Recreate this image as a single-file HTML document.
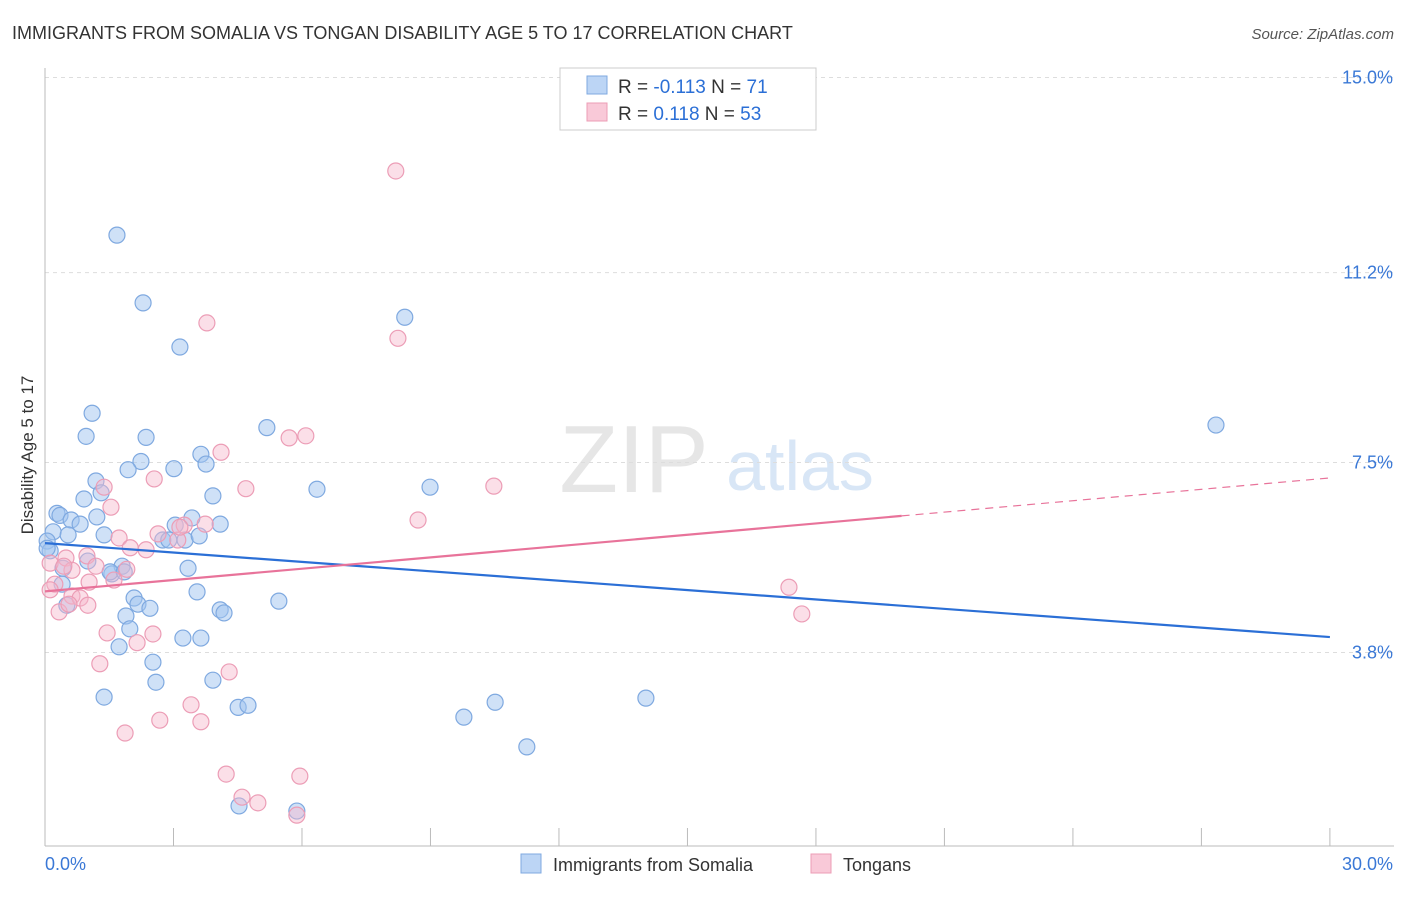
<!DOCTYPE html>
<html><head><meta charset="utf-8"><style>
body{margin:0;background:#fff;font-family:"Liberation Sans",sans-serif;}
svg text{font-family:"Liberation Sans",sans-serif;}
</style></head><body>
<svg id="c" width="1406" height="892">
<text x="12" y="39" font-size="18" fill="#333">IMMIGRANTS FROM SOMALIA VS TONGAN DISABILITY AGE 5 TO 17 CORRELATION CHART</text>
<text x="1394" y="39" font-size="15" fill="#555" font-style="italic" text-anchor="end">Source: ZipAtlas.com</text>
<text x="634" y="492" font-size="96" fill="#e6e6e6" font-family="Liberation Serif" text-anchor="middle">ZIP</text>
<text x="800" y="490" font-size="70" fill="#d8e6f6" text-anchor="middle">atlas</text>
<text x="33" y="455" font-size="17" fill="#333" text-anchor="middle" transform="rotate(-90 33 455)">Disability Age 5 to 17</text>
<g id="grid"></g><g id="axes"></g><g id="pts"></g><g id="lines"></g>
<g>
<rect x="560" y="68" width="256" height="62" fill="#fff" stroke="#ccc"/>
<rect x="587" y="76" width="20" height="18" fill="#bcd5f5" stroke="#7fa9e0"/>
<text x="618" y="93" font-size="19" fill="#333">R = <tspan fill="#2b6fd6">-0.113</tspan>   N =  <tspan fill="#2b6fd6">71</tspan></text>
<rect x="587" y="103" width="20" height="18" fill="#f9c9d8" stroke="#ec9db6"/>
<text x="618" y="120" font-size="19" fill="#333">R =  <tspan fill="#2b6fd6"> 0.118</tspan>   N = <tspan fill="#2b6fd6">53</tspan></text>
</g>
<g>
<rect x="521" y="854" width="20" height="19" fill="#bcd5f5" stroke="#7fa9e0"/>
<text x="553" y="871" font-size="18" fill="#333">Immigrants from Somalia</text>
<rect x="811" y="854" width="20" height="19" fill="#f9c9d8" stroke="#ec9db6"/>
<text x="843" y="871" font-size="18" fill="#333">Tongans</text>
</g>
</svg>
<script>
const yTicks=[3.8,7.5,11.2,15.0];
const yTickLabels=["3.8%","7.5%","11.2%","15.0%"];
const xEnds=["0.0%","30.0%"];
const somaliaX=[1.68,2.29,3.15,8.4,1.10,0.96,2.36,5.18,27.34,2.24,1.94,3.01,3.64,3.76,1.19,0.91,1.31,3.92,6.35,8.99,0.28,0.35,0.61,0.82,1.21,3.43,4.09,0.19,0.54,1.38,2.75,2.89,3.27,3.6,0.05,0.12,1.0,1.80,3.34,1.56,0.42,0.40,3.55,2.08,2.17,2.45,4.09,4.18,5.46,1.89,1.98,3.22,3.64,1.73,2.52,2.59,3.92,1.38,4.51,4.74,9.78,10.51,14.03,11.25,4.53,5.88,0.05,1.52,3.04,1.85,0.51];
const somaliaY=[11.93,10.61,9.75,10.33,8.46,8.01,7.99,8.18,8.23,7.52,7.36,7.38,7.66,7.47,7.14,6.79,6.91,6.85,6.98,7.02,6.51,6.47,6.38,6.30,6.44,6.42,6.30,6.15,6.09,6.09,5.99,5.99,5.99,6.07,5.97,5.78,5.58,5.48,5.44,5.33,5.44,5.13,4.98,4.86,4.74,4.66,4.63,4.57,4.80,4.51,4.26,4.08,4.08,3.91,3.61,3.22,3.26,2.93,2.73,2.77,2.54,2.83,2.91,1.96,0.81,0.71,5.83,5.37,6.28,5.37,4.72];
const tonganX=[8.19,3.78,8.24,5.70,6.09,4.11,2.55,4.69,10.48,1.38,1.54,8.71,3.25,2.64,3.10,1.73,1.99,0.98,2.36,0.49,0.12,1.19,0.63,0.44,1.91,1.61,0.23,0.12,1.03,0.63,0.82,1.0,0.33,0.56,17.37,17.67,1.45,2.52,2.15,1.28,4.30,3.41,2.68,3.64,1.87,4.23,5.95,4.60,4.97,5.88,3.15,3.74];
const tonganY=[13.18,10.22,9.92,7.98,8.02,7.70,7.18,6.99,7.04,7.02,6.63,6.38,6.28,6.11,5.99,6.03,5.84,5.68,5.80,5.64,5.54,5.48,5.40,5.48,5.42,5.21,5.13,5.02,5.17,4.90,4.86,4.72,4.59,4.74,5.07,4.55,4.18,4.16,3.99,3.58,3.42,2.78,2.48,2.45,2.23,1.43,1.39,0.98,0.87,0.63,6.24,6.30];
const blueFit=[[0,5.93],[30,4.10]];
const pinkFit=[[0,4.99],[20,6.46],[30,7.20]];
const X=v=>45+v*42.83, Y=v=>847.5-v*51.33;
const NS="http://www.w3.org/2000/svg";
function mk(p,t,a){const e=document.createElementNS(NS,t);for(const k in a)e.setAttribute(k,a[k]);document.getElementById(p).appendChild(e);return e;}
yTicks.forEach((t,i)=>{
 const g=mk('grid','line',{x1:45,x2:1394,y1:Y(t),y2:Y(t),stroke:'#ddd','stroke-dasharray':'4 4'});
 
 
 const l=mk('axes','text',{x:1393,y:Y(t)+6,'font-size':18,fill:'#3a78d6','text-anchor':'end'});l.textContent=yTickLabels[i];
 
 
});
const tl=mk('grid','line',{x1:45,x2:1394,y1:Y(15),y2:Y(15),stroke:'#ddd','stroke-dasharray':'4 4'});
mk('axes','line',{x1:45,x2:45,y1:68,y2:846,stroke:'#bbb'});
mk('axes','line',{x1:45,x2:1394,y1:846,y2:846,stroke:'#bbb'});
for(let i=1;i<=10;i++){const t=mk('axes','line',{x1:X(i*3),x2:X(i*3),y1:828,y2:846,stroke:'#bbb'});
 
 }
const a=mk('axes','text',{x:45,y:870,'font-size':18,fill:'#3a78d6'});a.textContent=xEnds[0];
const b=mk('axes','text',{x:1393,y:870,'font-size':18,fill:'#3a78d6','text-anchor':'end'});b.textContent=xEnds[1];
somaliaX.forEach((x,i)=>{const c=mk('pts','circle',{cx:X(x),cy:Y(somaliaY[i]),r:8,fill:'rgba(160,196,240,0.5)',stroke:'#7fa9e0','stroke-width':1.2});
 
 });
tonganX.forEach((x,i)=>{const c=mk('pts','circle',{cx:X(x),cy:Y(tonganY[i]),r:8,fill:'rgba(247,184,204,0.45)',stroke:'#ec9db6','stroke-width':1.2});
 
 });
const bl=mk('lines','line',{x1:X(blueFit[0][0]),y1:Y(blueFit[0][1]),x2:X(blueFit[1][0]),y2:Y(blueFit[1][1]),stroke:'#2b6fd6','stroke-width':2.2});


const pl=mk('lines','line',{x1:X(pinkFit[0][0]),y1:Y(pinkFit[0][1]),x2:X(pinkFit[1][0]),y2:Y(pinkFit[1][1]),stroke:'#e8739a','stroke-width':2.2});


const pd=mk('lines','line',{x1:X(pinkFit[1][0]),y1:Y(pinkFit[1][1]),x2:X(pinkFit[2][0]),y2:Y(pinkFit[2][1]),stroke:'#e8739a','stroke-width':1.2,'stroke-dasharray':'8 6'});


</script>
</body></html>
